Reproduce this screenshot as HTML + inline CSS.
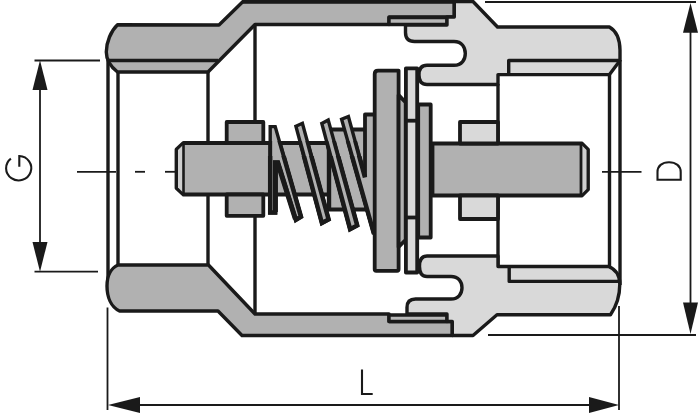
<!DOCTYPE html>
<html><head><meta charset="utf-8">
<style>
html,body{margin:0;padding:0;background:#fff;}
body{width:698px;height:413px;overflow:hidden;font-family:"Liberation Sans",sans-serif;}
svg{display:block;}
</style></head><body>
<svg width="698" height="413" viewBox="0 0 698 413">
<rect width="698" height="413" fill="#fff"/>
<g stroke="#1a1a1a" stroke-width="3.4" stroke-linejoin="round" stroke-linecap="butt" fill="none">

<!-- ===== inner vertical construction lines (behind) ===== -->
<g id="vlines">
<line x1="108" y1="60" x2="108" y2="285"/>
<line x1="118" y1="72" x2="118" y2="265"/>
<line x1="208" y1="72" x2="208" y2="265"/>
<line x1="255" y1="24" x2="255" y2="314"/>
<line x1="498" y1="84" x2="498" y2="266"/>
<line x1="609.5" y1="74.6" x2="609.5" y2="267"/>
<line x1="620" y1="60" x2="620" y2="285"/>
</g>

<!-- ===== LEFT BODY (dark) top ===== -->
<path id="lb-top" fill="#b1b1b1" d="M117.5,24.8 C111,31 106.3,42 106.3,52 C106.3,59 108.5,65 117.5,72 L208,72 L255,24.5 L389,24.5 L389,17 L454.3,17 L454.3,1.5 L243,1.5 L219,25 Z"/>
<line x1="108" y1="60.5" x2="218" y2="60.5"/>
<!-- thin rect top -->
<rect x="389" y="17.5" width="58" height="7" fill="#b8b8b8"/>

<rect x="243" y="0" width="230" height="3.7" fill="#1a1a1a" stroke="none"/>
<!-- ===== LEFT BODY bottom ===== -->
<path id="lb-bot" fill="#b1b1b1" d="M118,265 C111,268 107,276 107,286 C107,297 111,307 119.5,311 L218,311 L242,335.5 L452.3,335.5 L452.3,321.5 L389,321.5 L389,314 L255,314 L208.5,265 Z"/>
<rect x="389" y="315" width="58" height="6.5" fill="#b8b8b8"/>

<!-- ===== RIGHT BODY (light) top ===== -->
<path id="rb-top" fill="#d9d9d9" d="M405.5,25 L405.5,32.5 Q405.5,41.5 414.5,41.5 L454,41.5 C462,41.5 465.3,47.5 465.3,53.4 C465.3,59.3 462,65.3 454,65.3 L427,65.3 Q419,65.3 419,75 Q419,84.5 427,84.5 L498,84.5 L498,74.6 L609.5,74.6 L620,60.5 L620,50 C619.8,40 616.5,31 609.4,27 L497.5,27 L473,1.5 L454.3,1.5 L454.3,17 L447,17 L447,25 Z"/>
<path d="M508.7,74.6 L508.7,60.5 L620,60.5"/>

<!-- ===== RIGHT BODY bottom ===== -->
<path id="rb-bot" fill="#d9d9d9" d="M407,314 L407,307.5 Q407,299 415.5,299 L451,299 C458.5,299 462,293.5 462,287.8 C462,282 458.5,276.5 451,276.5 L427,276.5 Q419.5,276.5 419.5,266.3 Q419.5,256 427,256 L498,256 L498,266.5 L608.5,266.5 C615,269 619.8,275 619.8,284 C619.8,296 616.5,306 610.5,314.8 L497,314.8 L473,335.5 L452.3,335.5 L452.3,321.5 L447,321.5 L447,314 Z"/>
<path d="M509.2,266.5 L509.2,281.4 L620,281.4"/>

<g stroke-width="3.8">
<!-- ===== STEM ===== -->
<path id="stem-l" fill="#b1b1b1" d="M183.5,143 L340,143 L340,194.5 L183.5,194.5 L176.5,188 L176.5,149.5 Z"/>
<path fill="#cfcfcf" stroke="none" d="M183.5,144.5 L183.5,193 L178,187.5 L178,150 Z"/>
<line x1="183.5" y1="143" x2="183.5" y2="194.5" stroke-width="2.6"/>
<!-- nut -->
<rect x="226.7" y="122" width="36.6" height="21" fill="#b1b1b1"/>
<rect x="226.7" y="194.5" width="36.6" height="21.3" fill="#b1b1b1"/>

<!-- hub -->
<rect x="329" y="129.5" width="40" height="80" fill="#b1b1b1"/>
<line x1="329" y1="129.5" x2="329" y2="209.5" stroke-width="4.4"/>
<path fill="#b1b1b1" d="M365,176 L365,114.5 L374,114.5 L374,233 L357,176 Z" stroke="none"/>
<path d="M365,176 L365,114.5 L374,114.5"/>

<!-- ===== SPRING ===== -->
<g id="spring" fill="#b1b1b1" stroke-linejoin="miter">
<defs>
<g id="coils">
<path d="M270.2,126.6 L275.2,126.6 L301,216.8 L295.9,219.8 L278,162.5 L275.2,162.5 L275.2,212.5 L270.2,212.5 Z"/>
<path d="M295.9,126.2 L302.4,123.3 L328.6,219.4 L321.9,223 Z"/>
<path d="M321.8,123.4 L328.2,120 L357.2,225.4 L350.1,229.2 Z"/>
<path d="M341.6,119.2 L348.4,116.5 L365,176 L374,176 L374,234 Z" stroke="none"/>
<path fill="none" d="M365,177.5 L348.4,116.5 L341.6,119.2 L374,234"/>
</g>
<clipPath id="cpA"><rect x="260" y="141" width="120" height="110"/></clipPath>
<clipPath id="cpB"><rect x="260" y="156" width="120" height="110"/></clipPath>
</defs>
<use href="#coils" stroke-width="3.4"/>
<use href="#coils" stroke-width="3.9" clip-path="url(#cpA)"/>
<use href="#coils" stroke-width="4.5" clip-path="url(#cpB)"/>
<path fill="none" d="M275.5,212 L275.5,163 L277.6,163 L295.3,219" stroke-width="4.8"/>
</g>

<!-- ===== DISC assembly ===== -->
<path fill="#b1b1b1" d="M376.2,270.8 Q374.7,270.8 374.7,269.3 L374.7,74 Q374.7,70.6 378,70.6 L398.6,70.6 L398.6,269.3 Q398.6,270.8 397.1,270.8 Z"/>
<path fill="#b1b1b1" d="M398.6,95 L405.7,102.5 L405.7,239.7 L398.6,247 Z"/>
<rect x="405.9" y="68.3" width="11.3" height="204.2" fill="#d9d9d9"/>
<line x1="405.7" y1="120.7" x2="417.2" y2="120.7"/>
<line x1="405.7" y1="217.5" x2="417.2" y2="217.5"/>
<rect x="418.2" y="104.5" width="12.5" height="133" fill="#b1b1b1"/>

<!-- right stem -->
<path fill="#b1b1b1" d="M432.5,143.5 L582,143.5 L588,149.5 L588,189.5 L582,195.5 L432.5,195.5 Z"/>
<path fill="#cfcfcf" stroke="none" d="M581.5,145 L581.5,194 L586.5,189 L586.5,150 Z"/>
<line x1="581" y1="143.5" x2="581" y2="195.5" stroke-width="2.8"/>
<!-- bushing -->
<rect x="460" y="122" width="38" height="21.5" fill="#d9d9d9"/>
<rect x="460" y="195.5" width="38" height="23.5" fill="#d9d9d9"/>
</g>
</g>

<!-- ===== DIMENSIONS ===== -->
<g stroke="#1a1a1a" stroke-width="1.8" fill="none">
<!-- center line -->
<line x1="77" y1="171.8" x2="116" y2="171.8"/>
<line x1="135" y1="171.8" x2="145" y2="171.8"/>
<line x1="165" y1="171.8" x2="176" y2="171.8"/>
<line x1="602" y1="171.8" x2="641.5" y2="171.8"/>
<!-- G -->
<line x1="34.5" y1="60.5" x2="100" y2="60.5"/>
<line x1="34.5" y1="271.7" x2="98" y2="271.7"/>
<line x1="40" y1="85" x2="40" y2="248"/>
<!-- D -->
<line x1="485" y1="2" x2="696" y2="2"/>
<line x1="488" y1="335" x2="696" y2="335"/>
<line x1="690.5" y1="28" x2="690.5" y2="308"/>
<!-- L -->
<line x1="107.5" y1="307.5" x2="107.5" y2="410"/>
<line x1="619" y1="306" x2="619" y2="410"/>
<line x1="135" y1="405" x2="592" y2="405"/>
</g>
<g fill="#1a1a1a" stroke="none">
<path d="M40,60.3 L47.5,90 L32.5,90 Z"/>
<path d="M40,271.7 L47.5,242 L32.5,242 Z"/>
<path d="M690.5,3 L698,32.7 L683,32.7 Z"/>
<path d="M690.5,334 L698,302.5 L683,302.5 Z"/>
<path d="M108,405 L140,397 L140,413 Z"/>
<path d="M619,405 L589,397 L589,413 Z"/>
</g>
<!-- letters -->
<g stroke="#1a1a1a" stroke-width="2.1" fill="none" stroke-linecap="butt">
<path d="M362,369.5 V394 H372.7"/>
<path d="M10.9,158.6 A12.6,12.2 0 1 0 19.3,156 V166.8"/>
<path d="M657.5,179.7 H680.7 V172 C680.7,166 676,162.2 669,162.2 C662,162.2 657.5,166 657.5,172 Z"/>
</g>
</svg>
</body></html>
